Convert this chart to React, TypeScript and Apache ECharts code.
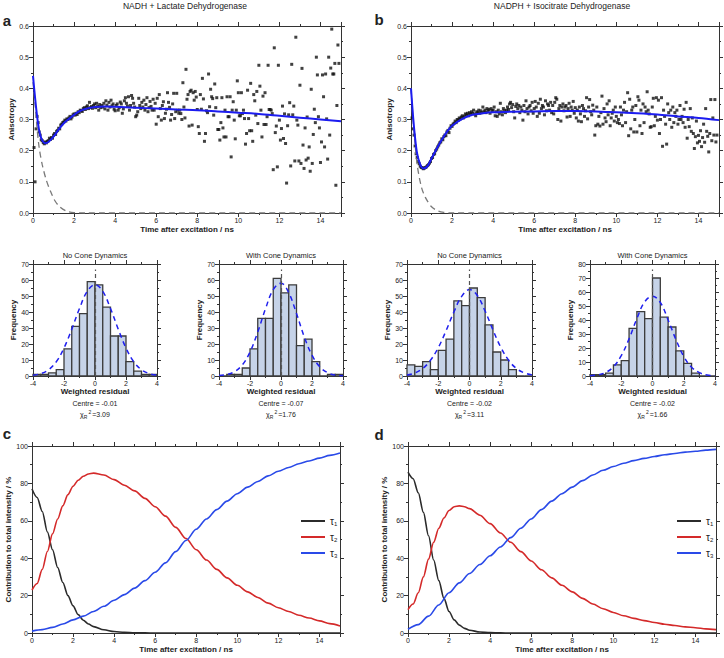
import React, { useEffect, useRef } from "react";
import * as echarts from "echarts";

const FONT = "'Liberation Sans', Arial, Helvetica, sans-serif";
const TEXT = "#222";
const AX = "#333";

// ---------- Panel a: NADH + LDH anisotropy ----------
const A_POINTS: [number, number][] = [
[0.05,.21],[0.1,.1],[0.15,.27],[0.2,.31],[0.25,.29],[0.3,.26],[0.35,.25],[0.4,.235],[0.45,.232],[0.5,.226],[0.55,.222],[0.6,.228],[0.65,.225],[0.7,.23],[0.75,.232],[0.8,.24],[0.85,.236],[0.9,.242],[0.95,.24],[1,.25],[1.05,.255],[1.1,.252],[1.15,.262],[1.2,.265],[1.25,.272],[1.3,.27],[1.35,.282],[1.4,.285],[1.45,.29],[1.5,.292],[1.55,.298],[1.6,.295],[1.65,.302],[1.7,.3],[1.75,.305],[1.8,.31],[1.85,.302],[1.9,.308],[1.95,.315],[2,.318],[2.05,.314],[2.1,.32],[2.15,.316],[2.2,.325],[2.25,.322],[2.3,.33],[2.35,.328],[2.4,.326],[2.45,.335],[2.5,.338],[2.55,.332],[2.6,.34],[2.65,.344],[2.7,.335],[2.75,.355],[2.8,.338],[2.85,.342],[2.9,.336],[2.95,.345],[3,.35],
[3.05,.338],[3.1,.352],[3.15,.342],[3.2,.33],[3.25,.348],[3.3,.338],[3.35,.345],[3.4,.34],[3.45,.352],[3.5,.334],[3.55,.36],[3.6,.346],[3.65,.33],[3.7,.355],[3.75,.34],[3.8,.362],[3.85,.344],[3.9,.35],[3.95,.333],[4,.328],[4.05,.345],[4.1,.35],[4.15,.33],[4.2,.338],[4.25,.356],[4.3,.35],[4.35,.32],[4.4,.334],[4.45,.36],[4.5,.37],[4.55,.352],[4.6,.343],[4.65,.373],[4.7,.33],[4.75,.345],[4.8,.377],[4.85,.368],[4.9,.352],[4.95,.34],[5,.309],[5.05,.314],[5.1,.325],[5.15,.368],[5.2,.345],[5.25,.335],[5.3,.355],[5.35,.34],[5.4,.362],[5.45,.33],[5.5,.348],[5.55,.37],[5.6,.325],[5.65,.338],[5.7,.358],[5.75,.342],[5.8,.33],[5.85,.365],[5.9,.33],[5.95,.352],[6,.285],
[6.05,.368],[6.1,.309],[6.15,.38],[6.2,.335],[6.25,.298],[6.3,.345],[6.35,.357],[6.4,.303],[6.45,.32],[6.5,.333],[6.55,.386],[6.6,.355],[6.65,.339],[6.7,.298],[6.75,.316],[6.8,.35],[6.85,.384],[6.9,.303],[6.95,.325],[7,.384],[7.05,.33],[7.1,.32],[7.15,.33],[7.2,.319],[7.25,.3],[7.3,.418],[7.35,.34],[7.4,.305],[7.45,.461],[7.5,.365],[7.55,.38],[7.6,.279],[7.65,.39],[7.7,.394],[7.75,.282],[7.8,.386],[7.85,.362],[7.9,.39],[7.95,.372],[8,.332],[8.05,.277],[8.1,.255],[8.15,.38],[8.2,.333],[8.25,.432],[8.3,.366],[8.35,.23],[8.4,.255],[8.45,.328],[8.5,.322],[8.55,.446],[8.6,.341],[8.65,.397],[8.7,.373],[8.75,.367],[8.8,.314],[8.85,.414],[8.9,.338],[8.95,.37],[9,.268],
[9.05,.268],[9.1,.234],[9.15,.29],[9.2,.37],[9.25,.273],[9.3,.244],[9.35,.33],[9.4,.244],[9.45,.373],[9.5,.309],[9.55,.309],[9.6,.373],[9.65,.18],[9.7,.33],[9.75,.357],[9.8,.298],[9.85,.238],[9.9,.33],[9.95,.424],[10,.386],[10.05,.312],[10.1,.312],[10.15,.386],[10.2,.319],[10.25,.33],[10.3,.303],[10.35,.221],[10.4,.255],[10.45,.394],[10.5,.303],[10.55,.264],[10.6,.416],[10.65,.264],[10.7,.23],[10.75,.38],[10.8,.36],[10.85,.314],[10.9,.39],[10.95,.287],[11,.474],[11.05,.407],[11.1,.33],[11.15,.244],[11.2,.375],[11.25,.284],[11.3,.386],[11.35,.284],[11.4,.309],[11.45,.474],[11.5,.332],[11.55,.332],[11.6,.33],[11.65,.319],[11.7,.139],[11.75,.53],[11.8,.258],[11.85,.279],[11.9,.148],[11.95,.474],[12,.298],
[12.05,.234],[12.1,.271],[12.15,.343],[12.2,.239],[12.25,.318],[12.3,.223],[12.35,.096],[12.4,.28],[12.45,.315],[12.5,.354],[12.55,.151],[12.6,.477],[12.65,.315],[12.7,.343],[12.75,.167],[12.8,.564],[12.85,.298],[12.9,.282],[12.95,.167],[13,.41],[13.05,.159],[13.1,.464],[13.15,.218],[13.2,.143],[13.25,.273],[13.3,.17],[13.35,.308],[13.4,.176],[13.45,.212],[13.5,.134],[13.55,.397],[13.6,.159],[13.65,.252],[13.7,.333],[13.75,.29],[13.8,.5],[13.85,.443],[13.9,.309],[13.95,.273],[14,.162],[14.05,.228],[14.1,.443],[14.15,.373],[14.2,.212],[14.25,.446],[14.3,.302],[14.35,.173],[14.4,.5],[14.45,.25],[14.5,.465],[14.55,.59],[14.6,.446],[14.65,.446],[14.7,.48],[14.75,.089],[14.8,.345],[14.85,.539],[14.9,.48]
];
const A_FIT: [number, number][] = [[0,.44],[0.1,.37],[0.2,.31],[0.3,.265],[0.4,.24],[0.5,.228],[0.6,.224],[0.75,.228],[1,.245],[1.25,.268],[1.5,.288],[1.75,.302],[2,.315],[2.25,.326],[2.5,.333],[3,.34],[3.5,.342],[4,.341],[5,.338],[6,.335],[7,.332],[8,.33],[9,.326],[10,.322],[11,.318],[12,.312],[13,.306],[14,.3],[15,.294]];
const A_FAST: [number, number][] = [[0,.42],[0.1,.35],[0.2,.27],[0.3,.21],[0.45,.155],[0.65,.105],[0.85,.07],[1.06,.04],[1.3,.02],[1.63,.006],[2,.001],[2.5,0],[15,0]];

// ---------- Panel b: NADPH + IDH anisotropy ----------
const B_POINTS: [number, number][] = [
[0.05,.305],[0.1,.27],[0.15,.25],[0.2,.215],[0.25,.19],[0.3,.178],[0.35,.165],[0.4,.158],[0.45,.15],[0.5,.146],[0.55,.145],[0.6,.142],[0.65,.144],[0.7,.146],[0.75,.148],[0.8,.152],[0.85,.155],[0.9,.16],[0.95,.165],[1,.175],[1.05,.178],[1.1,.188],[1.15,.19],[1.2,.2],[1.25,.205],[1.3,.212],[1.35,.218],[1.4,.225],[1.45,.228],[1.5,.238],[1.55,.235],[1.6,.245],[1.65,.25],[1.7,.248],[1.75,.26],[1.8,.265],[1.85,.258],[1.9,.272],[1.95,.28],[2,.278],[2.05,.285],[2.1,.288],[2.15,.295],[2.2,.29],[2.25,.3],[2.3,.298],[2.35,.305],[2.4,.302],[2.45,.308],[2.5,.312],[2.55,.305],[2.6,.31],[2.65,.318],[2.7,.315],[2.75,.32],[2.8,.312],[2.85,.322],[2.9,.318],[2.95,.325],[3,.32],
[3.05,.33],[3.1,.318],[3.15,.312],[3.2,.325],[3.25,.322],[3.3,.33],[3.35,.32],[3.4,.328],[3.45,.322],[3.5,.34],[3.55,.325],[3.6,.33],[3.65,.322],[3.7,.335],[3.75,.328],[3.8,.332],[3.85,.32],[3.9,.335],[3.95,.328],[4,.33],[4.05,.34],[4.1,.312],[4.15,.325],[4.2,.31],[4.25,.33],[4.3,.318],[4.35,.352],[4.4,.325],[4.45,.315],[4.5,.335],[4.55,.328],[4.6,.322],[4.65,.33],[4.7,.34],[4.75,.332],[4.8,.35],[4.85,.355],[4.9,.338],[4.95,.348],[5,.325],[5.05,.305],[5.1,.342],[5.15,.35],[5.2,.335],[5.25,.345],[5.3,.322],[5.35,.34],[5.4,.33],[5.45,.298],[5.5,.345],[5.55,.325],[5.6,.36],[5.65,.335],[5.7,.318],[5.75,.34],[5.8,.345],[5.85,.328],[5.9,.355],[5.95,.32],[6,.335],
[6.05,.358],[6.1,.34],[6.15,.31],[6.2,.352],[6.25,.32],[6.3,.365],[6.35,.335],[6.4,.345],[6.45,.34],[6.5,.315],[6.55,.36],[6.6,.328],[6.65,.35],[6.7,.345],[6.75,.33],[6.8,.355],[6.85,.322],[6.9,.345],[6.95,.318],[7,.355],[7.05,.37],[7.1,.365],[7.15,.3],[7.2,.335],[7.25,.345],[7.3,.295],[7.35,.34],[7.4,.35],[7.45,.328],[7.5,.34],[7.55,.345],[7.6,.308],[7.65,.335],[7.7,.352],[7.75,.31],[7.8,.34],[7.85,.33],[7.9,.358],[7.95,.32],[8,.338],[8.05,.305],[8.1,.33],[8.15,.295],[8.2,.34],[8.25,.318],[8.3,.293],[8.35,.345],[8.4,.335],[8.45,.31],[8.5,.328],[8.55,.37],[8.6,.302],[8.65,.34],[8.7,.364],[8.75,.325],[8.8,.315],[8.85,.346],[8.9,.33],[8.95,.25],[9,.28],
[9.05,.34],[9.1,.285],[9.15,.31],[9.2,.279],[9.25,.322],[9.3,.375],[9.35,.285],[9.4,.335],[9.45,.305],[9.5,.293],[9.55,.35],[9.6,.315],[9.65,.36],[9.7,.28],[9.75,.305],[9.8,.32],[9.85,.33],[9.9,.295],[9.95,.34],[10,.31],[10.05,.29],[10.1,.3],[10.15,.287],[10.2,.34],[10.25,.315],[10.3,.28],[10.35,.33],[10.4,.355],[10.45,.29],[10.5,.325],[10.55,.386],[10.6,.248],[10.65,.365],[10.7,.27],[10.75,.33],[10.8,.34],[10.85,.26],[10.9,.3],[10.95,.345],[11,.26],[11.05,.373],[11.1,.362],[11.15,.28],[11.2,.33],[11.25,.255],[11.3,.35],[11.35,.29],[11.4,.34],[11.45,.325],[11.5,.389],[11.55,.33],[11.6,.318],[11.65,.275],[11.7,.277],[11.75,.34],[11.8,.368],[11.85,.28],[11.9,.31],[11.95,.37],[12,.298],
[12.05,.362],[12.1,.255],[12.15,.3],[12.2,.37],[12.25,.214],[12.3,.33],[12.35,.31],[12.4,.285],[12.45,.221],[12.5,.35],[12.55,.322],[12.6,.3],[12.65,.33],[12.7,.275],[12.75,.34],[12.8,.29],[12.85,.322],[12.9,.31],[12.95,.33],[13,.285],[13.05,.3],[13.1,.345],[13.15,.3],[13.2,.31],[13.25,.29],[13.3,.333],[13.35,.275],[13.4,.355],[13.45,.24],[13.5,.3],[13.55,.277],[13.6,.335],[13.65,.262],[13.7,.305],[13.75,.255],[13.8,.207],[13.85,.245],[13.9,.295],[13.95,.225],[14,.249],[14.05,.23],[14.1,.264],[14.15,.213],[14.2,.242],[14.25,.285],[14.3,.227],[14.35,.335],[14.4,.262],[14.45,.246],[14.5,.196],[14.55,.255],[14.6,.364],[14.65,.232],[14.7,.305],[14.75,.25],[14.8,.364],[14.85,.228],[14.9,.25]
];
const B_FIT: [number, number][] = [[0,.4],[0.1,.31],[0.2,.24],[0.3,.19],[0.45,.155],[0.6,.143],[0.8,.15],[1,.175],[1.2,.2],[1.5,.235],[1.8,.265],[2,.28],[2.5,.302],[3,.315],[3.5,.32],[4,.323],[5,.325],[6,.326],[7,.327],[8,.327],[9,.326],[10,.323],[11,.32],[12,.316],[13,.31],[14,.305],[15,.298]];
const B_FAST: [number, number][] = [[0,.4],[0.1,.3],[0.2,.22],[0.3,.155],[0.5,.085],[0.7,.05],[1,.02],[1.3,.007],[1.6,.002],[2,0],[15,0]];

// ---------- Residual histograms ----------
const HIST_EDGES = [-4,-3.5,-3,-2.5,-2,-1.5,-1,-0.5,0,0.5,1,1.5,2,2.5,3,3.5,4];
const HIST_A_NOCONE = [1,1,2,4,17,31,39,59,57,43,25,25,9,3,1,1];
const HIST_A_CONE = [0,1,1,5,17,36,36,61,52,57,19,23,9,0,1,1];
const HIST_B_NOCONE = [7,6,9,4,16,23,47,44,55,49,32,15,10,4,0,0];
const HIST_B_CONE = [1,1,2,8,11,34,46,41,70,42,35,18,9,2,0,0];
const GAUSS_X = [-4,-3.5,-3,-2.5,-2,-1.5,-1,-0.5,0,0.5,1,1.5,2,2.5,3,3.5,4];
const GAUSS_A_NOCONE = [0.5,1.5,3.9,8.9,17.5,29.2,42.2,52.9,57,52.9,42.2,29.2,17.5,8.9,3.9,1.5,0.5];
const GAUSS_A_CONE = [0.3,0.9,2.7,6.9,15,27.5,42,54,58,52,39,24.5,13,5.8,2.1,0.6,0.2];
const GAUSS_B_NOCONE = [0.6,1.9,4.6,9.8,17.7,28.3,40,49.8,54,50.3,40.6,28.8,18,9.9,4.7,2,0.7];
const GAUSS_B_CONE = [0.2,0.8,2.5,6.5,14.5,26.5,41,53,57,52.5,40,26,14,6.3,2.4,0.7,0.2];
const HIST_TITLES = ["No Cone Dynamics", "With Cone Dynamics", "No Cone Dynamics", "With Cone Dynamics"];
const CENTRES = ["-0.01", "-0.07", "-0.02", "-0.02"];
const CHI2 = ["3.09", "1.76", "3.11", "1.66"];
const HIST_YMAX = [70, 70, 70, 80];

// ---------- Panels c, d: intensity contributions ----------
const C_TAU1: [number, number][] = [[0,77],[0.25,72.5],[0.5,65],[0.75,54],[1,44.5],[1.25,35],[1.5,27],[1.75,20],[2,14.5],[2.25,9.8],[2.5,6.8],[2.75,4.8],[3,3.4],[3.5,1.7],[4,0.8],[4.5,0.35],[5,0.15],[5.5,0.06],[6,0.02],[7,0],[8,0],[9,0],[10,0],[11,0],[12,0],[13,0],[14,0],[15,0]];
const C_TAU2: [number, number][] = [[0,23],[0.25,26.5],[0.5,34],[0.75,43.6],[1,53],[1.25,61],[1.5,68],[1.75,74],[2,78.5],[2.25,81.7],[2.5,83.8],[2.75,85],[3,85.5],[3.5,84.5],[4,82],[4.5,79],[5,76],[5.5,72],[6,67.5],[6.5,62.5],[7,56.5],[7.5,50.5],[8,44.5],[8.5,39],[9,34],[9.5,29.5],[10,25.5],[10.5,22],[11,19],[11.5,16],[12,13.5],[12.5,11.5],[13,9.5],[13.5,8],[14,6.5],[14.5,5],[15,3.8]];
const C_TAU3: [number, number][] = [[0,1],[0.5,1.8],[1,3],[1.5,4.8],[2,7],[2.5,9],[3,11.5],[3.5,14.3],[4,17.5],[4.5,20.5],[5,24],[5.5,28],[6,32.5],[6.5,37.5],[7,43.5],[7.5,49.5],[8,55.5],[8.5,61],[9,66],[9.5,70.5],[10,74.5],[10.5,78],[11,81],[11.5,84],[12,86.5],[12.5,88.5],[13,90.5],[13.5,92],[14,93.5],[14.5,95],[15,96.2]];
const D_TAU1: [number, number][] = [[0,86],[0.25,82.5],[0.5,75],[0.75,64.5],[1,52],[1.25,39],[1.5,28],[1.75,18.5],[2,11.5],[2.25,7],[2.5,4.2],[2.75,2.5],[3,1.5],[3.5,0.5],[4,0.2],[4.5,0.05],[5,0],[6,0],[7,0],[8,0],[9,0],[10,0],[11,0],[12,0],[13,0],[14,0],[15,0]];
const D_TAU2: [number, number][] = [[0,12.5],[0.25,15.5],[0.5,21.5],[0.75,30],[1,39.5],[1.25,48.5],[1.5,56],[1.75,61.5],[2,65.5],[2.25,67.5],[2.5,68],[2.75,67.5],[3,66.5],[3.5,63],[4,58.5],[4.5,53.5],[5,48.5],[5.5,43.5],[6,38.5],[6.5,33.8],[7,29.5],[7.5,25.5],[8,22],[8.5,18.5],[9,15.5],[9.5,13],[10,11],[10.5,9.2],[11,7.8],[11.5,6.6],[12,5.6],[12.5,4.7],[13,4],[13.5,3.3],[14,2.8],[14.5,2.2],[15,1.8]];
const D_TAU3: [number, number][] = [[0,2],[0.5,4.5],[1,9],[1.5,15],[2,21.5],[2.5,26.8],[3,31.8],[3.5,36.6],[4,41.3],[4.5,46],[5,51],[5.5,56],[6,61],[6.5,66],[7,70.5],[7.5,74.5],[8,78],[8.5,81.5],[9,84.5],[9.5,87],[10,89],[10.5,90.8],[11,92.2],[11.5,93.4],[12,94.4],[12.5,95.3],[13,96],[13.5,96.7],[14,97.2],[14.5,97.8],[15,98.2]];
const TAU_NAMES = ["τ1", "τ2", "τ3"];
const TAU_COLORS = ["#2b2b2b", "#d42a2a", "#2a4ae8"];

const GRIDS = [
  { left: 33, top: 26, width: 308, height: 187 },
  { left: 411, top: 26, width: 308, height: 187 },
  { left: 33, top: 264, width: 124, height: 112 },
  { left: 219, top: 264, width: 124, height: 112 },
  { left: 407, top: 264, width: 125, height: 112 },
  { left: 590, top: 264, width: 125, height: 112 },
  { left: 32, top: 446, width: 308, height: 187 },
  { left: 408, top: 446, width: 308, height: 187 },
];

const nameStyle = { fontFamily: FONT, fontSize: 8, fontWeight: "bold", color: TEXT };
const labelStyle = { fontFamily: FONT, fontSize: 7, color: TEXT };

function xPair(gi: number, min: number, max: number, interval: number, name: string, nameGap: number) {
  const base: any = {
    type: "value", gridIndex: gi, min, max, interval,
    axisLine: { show: true, onZero: false, lineStyle: { color: AX, width: 1 } },
    axisTick: { show: true, inside: false, length: 4, lineStyle: { color: AX } },
    minorTick: { show: true, splitNumber: 2, length: 2, lineStyle: { color: AX } },
    splitLine: { show: false }, minorSplitLine: { show: false },
  };
  return [
    { ...base, position: "bottom", name, nameLocation: "middle", nameGap, nameTextStyle: nameStyle,
      axisLabel: { ...labelStyle, margin: 4, showMaxLabel: max === 4 } },
    { ...base, position: "top", axisLabel: { show: false } },
  ];
}
function yPair(gi: number, min: number, max: number, interval: number, name: string, nameGap: number, fmt?: (v: number) => string) {
  const base: any = {
    type: "value", gridIndex: gi, min, max, interval,
    axisLine: { show: true, onZero: false, lineStyle: { color: AX, width: 1 } },
    axisTick: { show: true, inside: false, length: 4, lineStyle: { color: AX } },
    minorTick: { show: true, splitNumber: 2, length: 2, lineStyle: { color: AX } },
    splitLine: { show: false }, minorSplitLine: { show: false },
  };
  return [
    { ...base, position: "left", name, nameLocation: "middle", nameGap, nameTextStyle: nameStyle,
      axisLabel: { ...labelStyle, margin: 4, formatter: fmt } },
    { ...base, position: "right", axisLabel: { show: false } },
  ];
}

function buildOption() {
  const xAxis: any[] = [];
  const yAxis: any[] = [];
  const series: any[] = [];
  const fmt1 = (v: number) => v.toFixed(1);

  // anisotropy panels
  xAxis.push(...xPair(0, 0, 15, 2, "Time after excitation / ns", 12));
  yAxis.push(...yPair(0, 0, 0.6, 0.1, "Anisotropy", 18, fmt1));
  xAxis.push(...xPair(1, 0, 15, 2, "Time after excitation / ns", 12));
  yAxis.push(...yPair(1, 0, 0.6, 0.1, "Anisotropy", 18, fmt1));
  const aniso = [
    { pts: A_POINTS, fit: A_FIT, fast: A_FAST },
    { pts: B_POINTS, fit: B_FIT, fast: B_FAST },
  ];
  aniso.forEach((p, i) => {
    const ax = { xAxisIndex: 2 * i, yAxisIndex: 2 * i };
    series.push({ type: "scatter", ...ax, data: p.pts, symbol: "rect", symbolSize: 3, itemStyle: { color: "#111" }, silent: true });
    series.push({ type: "line", ...ax, data: p.fast, showSymbol: false, symbol: "none", smooth: 0.3,
      lineStyle: { color: "#7a7a7a", width: 1.3, type: [6, 4] }, silent: true });
    series.push({ type: "line", ...ax, data: p.fit, showSymbol: false, symbol: "none", smooth: 0.3,
      lineStyle: { color: "#1c1cf0", width: 2 }, silent: true });
  });

  // histograms
  const hists = [
    { counts: HIST_A_NOCONE, gauss: GAUSS_A_NOCONE },
    { counts: HIST_A_CONE, gauss: GAUSS_A_CONE },
    { counts: HIST_B_NOCONE, gauss: GAUSS_B_NOCONE },
    { counts: HIST_B_CONE, gauss: GAUSS_B_CONE },
  ];
  hists.forEach((h, k) => {
    const gi = 2 + k;
    xAxis.push(...xPair(gi, -4, 4, 2, "Weighted residual", 10));
    yAxis.push(...yPair(gi, 0, HIST_YMAX[k], 10, "Frequency", 13));
    const ax = { xAxisIndex: 2 * gi, yAxisIndex: 2 * gi };
    series.push({
      type: "custom", ...ax, silent: true,
      data: h.counts.map((c, i) => [HIST_EDGES[i], HIST_EDGES[i + 1], c]),
      encode: { x: [0, 1], y: 2 },
      renderItem: (params: any, api: any) => {
        const p0 = api.coord([api.value(0), api.value(2)]);
        const p1 = api.coord([api.value(1), 0]);
        return {
          type: "rect",
          shape: { x: p0[0], y: p0[1], width: p1[0] - p0[0], height: p1[1] - p0[1] },
          style: { fill: "#c6d3e8", stroke: "#3c3c3c", lineWidth: 1.3 },
        };
      },
    });
    series.push({
      type: "line", ...ax, silent: true,
      data: GAUSS_X.map((x, i) => [x, h.gauss[i]]),
      showSymbol: false, symbol: "none", smooth: 0.4,
      lineStyle: { color: "#2020ee", width: 1.5, type: [5, 4] },
      markLine: {
        silent: true, symbol: "none", label: { show: false },
        lineStyle: { color: "#555", width: 1.2, type: [4, 3] },
        data: [[{ coord: [0, 0] }, { coord: [0, HIST_YMAX[k] * 0.95] }]],
      },
    });
  });

  // contribution panels
  const contrib = [
    [C_TAU1, C_TAU2, C_TAU3],
    [D_TAU1, D_TAU2, D_TAU3],
  ];
  contrib.forEach((set, j) => {
    const gi = 6 + j;
    xAxis.push(...xPair(gi, 0, 15, 2, "Time after excitation / ns", 12));
    yAxis.push(...yPair(gi, 0, 100, 20, "Contribution to total intensity / %", 19));
    set.forEach((d, t) => {
      series.push({
        type: "line", name: TAU_NAMES[t], xAxisIndex: 2 * gi, yAxisIndex: 2 * gi,
        data: d, showSymbol: false, symbol: "none", smooth: 0.3, smoothMonotone: "x",
        lineStyle: { color: TAU_COLORS[t], width: 1.6 }, itemStyle: { color: TAU_COLORS[t] }, silent: true,
      });
    });
  });

  const legendBase = {
    orient: "vertical", itemWidth: 24, itemHeight: 2, icon: "rect", itemGap: 5,
    data: TAU_NAMES, selectedMode: false,
    formatter: (n: string) => "{t|τ}{s|" + n.slice(1) + "}",
    textStyle: {
      color: TEXT, fontFamily: FONT,
      rich: { t: { fontSize: 10, fontFamily: FONT, color: TEXT }, s: { fontSize: 6, fontFamily: FONT, color: TEXT, padding: [6, 0, 0, 0] } },
    },
  };

  const graphic: any[] = [];
  const txt = (x: number, y: number, text: string, size: number, bold = false, align = "center") => ({
    type: "text", x, y, silent: true,
    style: { text, fontFamily: FONT, fontSize: size, fontWeight: bold ? "bold" : "normal", fill: TEXT, align, verticalAlign: "middle" },
  });
  graphic.push(txt(185, 6, "NADH + Lactate Dehydrogenase", 8.5));
  graphic.push(txt(562, 6, "NADPH + Isocitrate Dehydrogenase", 8.5));
  graphic.push(txt(7, 20, "a", 15, true));
  graphic.push(txt(379, 19, "b", 15, true));
  graphic.push(txt(7, 433, "c", 15, true));
  graphic.push(txt(379, 434, "d", 15, true));
  [2, 3, 4, 5].forEach((gi, k) => {
    const g = GRIDS[gi];
    const cx = g.left + g.width / 2;
    graphic.push(txt(cx, 255, HIST_TITLES[k], 7.5));
    graphic.push(txt(cx, 403, "Centre = " + CENTRES[k], 7));
    graphic.push({
      type: "text", x: cx, y: 414, silent: true,
      style: {
        text: "{c|χ}{r|R}{s|2}{c|=" + CHI2[k] + "}",
        align: "center", verticalAlign: "middle", fill: TEXT,
        rich: {
          c: { fontFamily: FONT, fontSize: 7, color: TEXT },
          r: { fontFamily: FONT, fontSize: 5, color: TEXT, padding: [5, 1, 0, 0] },
          s: { fontFamily: FONT, fontSize: 5, color: TEXT, padding: [0, 1, 5, 0] },
        },
      },
    });
  });

  return {
    animation: false,
    backgroundColor: "#fff",
    grid: GRIDS.map((g) => ({ ...g, containLabel: false })),
    xAxis, yAxis, series,
    legend: [
      { ...legendBase, left: 296, top: 511 },
      { ...legendBase, left: 672, top: 511 },
    ],
    graphic,
  };
}

export default function App() {
  const ref = useRef<HTMLDivElement>(null);
  useEffect(() => {
    document.body.style.margin = "0";
    if (!ref.current) return;
    const chart = echarts.init(ref.current, null, { renderer: "svg" });
    chart.setOption(buildOption() as any);
    return () => chart.dispose();
  }, []);
  return <div ref={ref} style={{ width: 724, height: 658, background: "#fff" }} />;
}
